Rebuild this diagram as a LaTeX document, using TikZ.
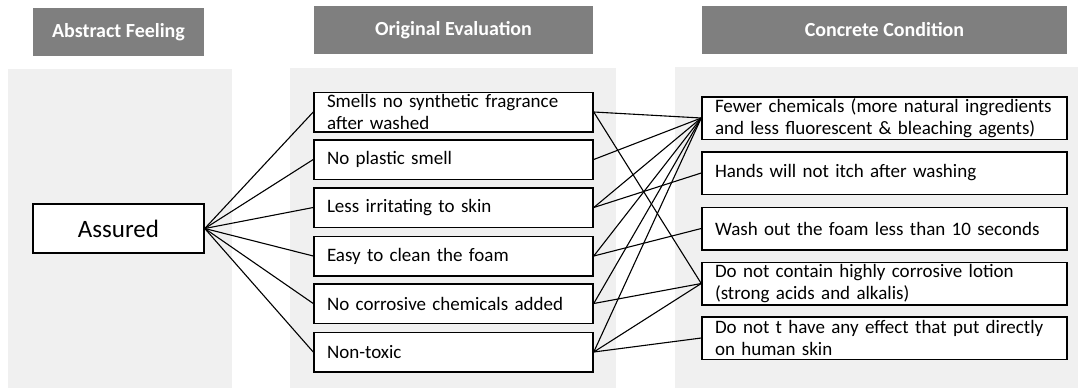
\documentclass[tikz,border=0pt]{standalone}
\usepackage{fontspec}
\setmainfont{Carlito}
\definecolor{hdrgray}{HTML}{7F7F7F}
\definecolor{panelgray}{HTML}{F0F0F0}
\begin{document}
\begin{tikzpicture}[x=1pt, y=-1pt, line width=1.1pt,
    hdr/.style={fill=hdrgray, text=white, minimum height=48pt, inner sep=0pt,
      font=\fontsize{20}{24}\selectfont\bfseries},
    feel/.style={draw, line width=1.5pt, fill=white, minimum width=171pt, minimum height=49pt,
      font=\fontsize{25}{30}\selectfont},
    evalbox/.style={draw, line width=1.5pt, fill=white, text width=253pt, inner xsep=13pt,
      inner ysep=0pt, minimum height=39.5pt, align=left, font=\fontsize{19}{22}\selectfont},
    condbox/.style={evalbox, text width=339pt, minimum height=42.5pt}]
        \useasboundingbox (0,0) rectangle (1086,388);
        \fill[panelgray] (8,69) rectangle (232,388);
        \fill[panelgray] (290,68) rectangle (616,388);
        \fill[panelgray] (675,67) rectangle (1078,388);

        \node[hdr, minimum width=171pt] (hA) at (118.5,32) {Abstract Feeling};
        \node[hdr, minimum width=279pt] (hO) at (453.5,30) {Original Evaluation};
        \node[hdr, minimum width=365pt] (hC) at (884.5,30) {Concrete Condition};

        \node[feel] (a1) at (118.5,228.5) {Assured};

        \node[evalbox] (e1) at (453.5,112) {Smells no synthetic fragrance\\after washed};
        \node[evalbox] (e2) at (453.5,159.5) {No plastic smell};
        \node[evalbox] (e3) at (453.5,207.5) {Less irritating to skin};
        \node[evalbox] (e4) at (453.5,256) {Easy to clean the foam};
        \node[evalbox] (e5) at (453.5,303.5) {No corrosive chemicals added};
        \node[evalbox] (e6) at (453.5,352) {Non-toxic};

        \node[condbox] (c1) at (884.5,118) {Fewer chemicals (more natural ingredients\\and less fluorescent \& bleaching agents)};
        \node[condbox] (c2) at (884.5,173) {Hands will not itch after washing};
        \node[condbox] (c3) at (884.5,228.5) {Wash out the foam less than 10 seconds};
        \node[condbox] (c4) at (884.5,283.5) {Do not contain highly corrosive lotion\\(strong acids and alkalis)};
        \node[condbox] (c5) at (884.5,338) {Do not t have any effect that put directly\\on human skin};

        \draw (a1.east) to (e1.west);
        \draw (a1.east) to (e2.west);
        \draw (a1.east) to (e3.west);
        \draw (a1.east) to (e4.west);
        \draw (a1.east) to (e5.west);
        \draw (a1.east) to (e6.west);

        \draw (e1.east) to (c1.west);
        \draw (e1.east) to (c4.west);
        \draw (e2.east) to (c1.west);
        \draw (e3.east) to (c1.west);
        \draw (e3.east) to (c2.west);
        \draw (e4.east) to (c1.west);
        \draw (e4.east) to (c3.west);
        \draw (e5.east) to (c1.west);
        \draw (e5.east) to (c4.west);
        \draw (e6.east) to (c1.west);
        \draw (e6.east) to (c4.west);
        \draw (e6.east) to (c5.west);
\end{tikzpicture}
\end{document}
